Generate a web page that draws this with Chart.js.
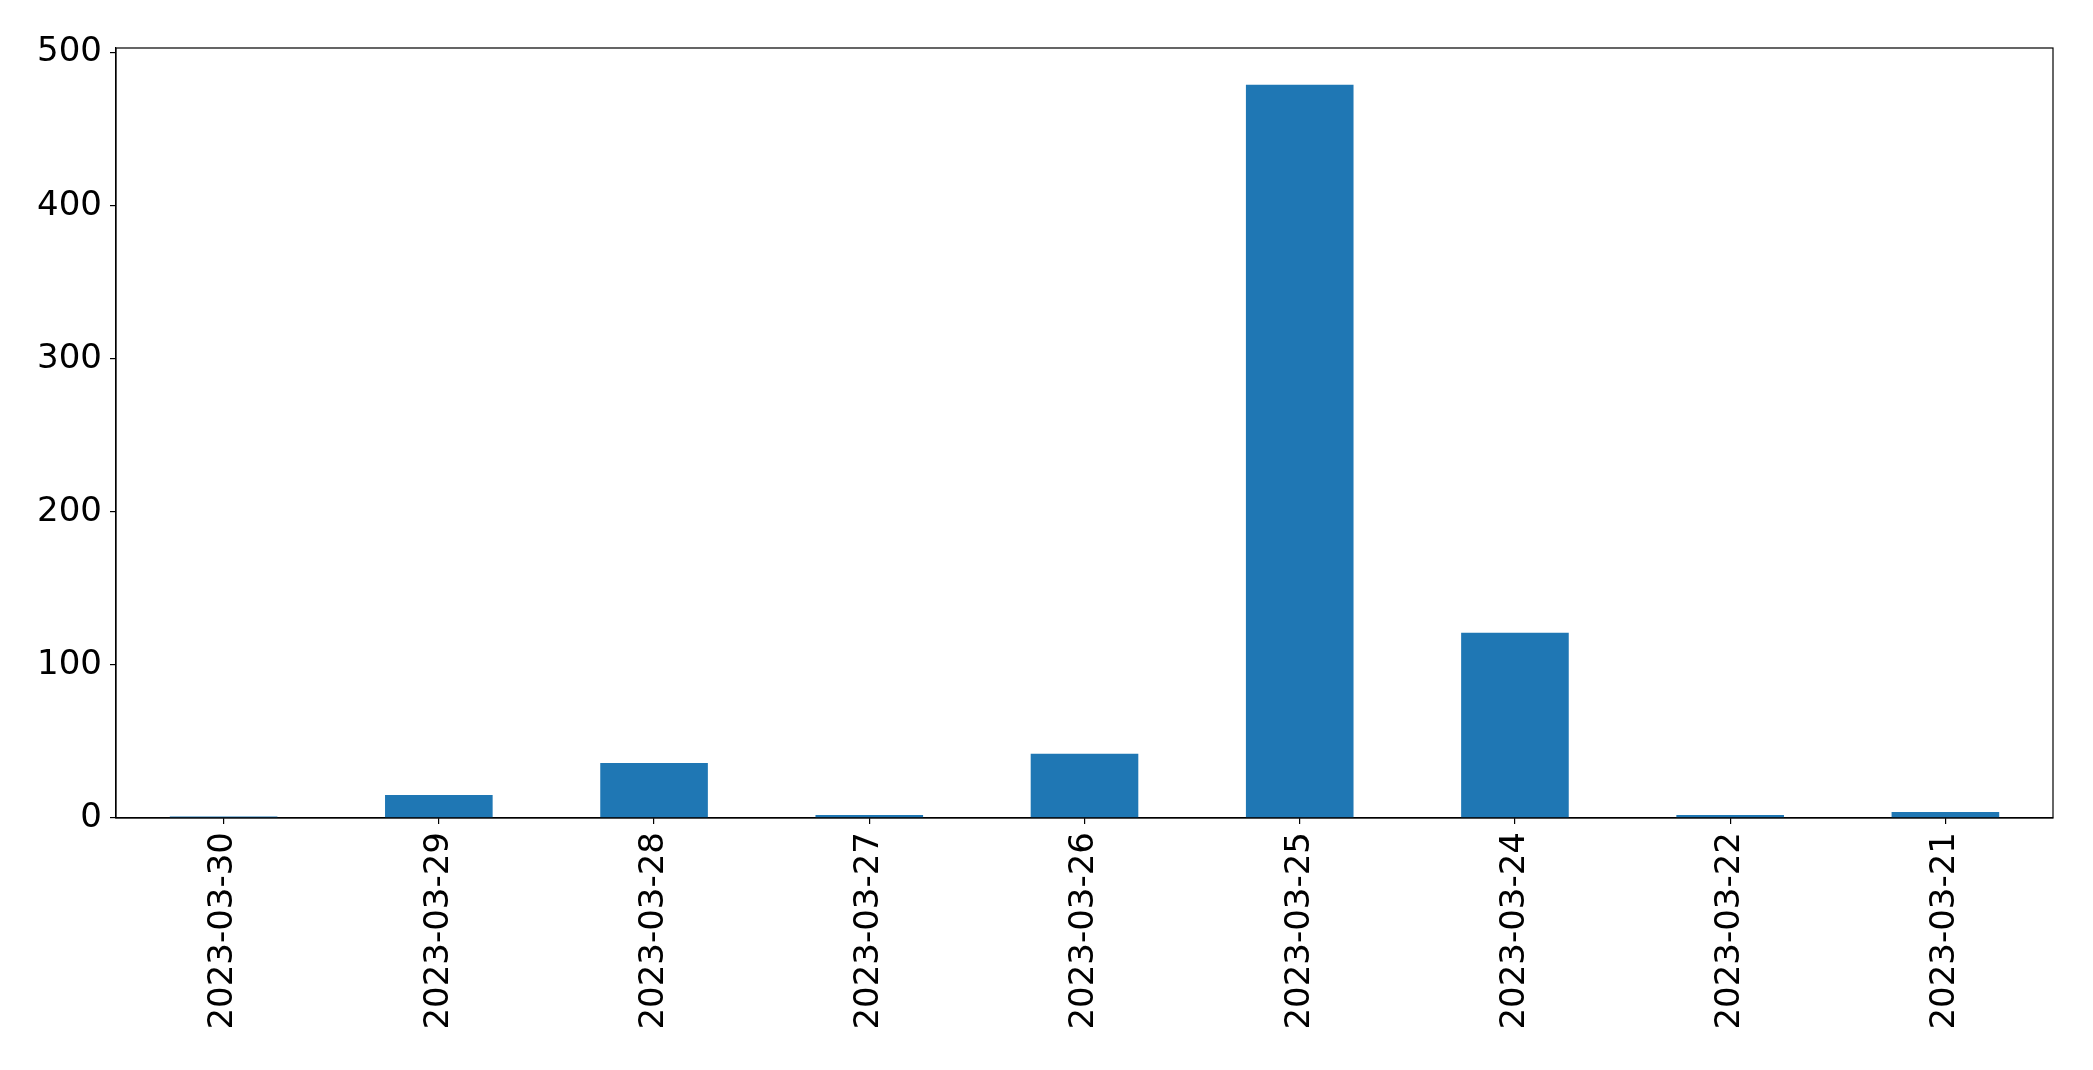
<!DOCTYPE html>
<html>
<head>
<meta charset="utf-8">
<script src="https://cdn.jsdelivr.net/npm/chart.js@4"></script>
<style>
  html, body { margin: 0; padding: 0; background: #fff; }
  #wrap { width: 2093px; height: 1070px; }
</style>
</head>
<body>
<div id="wrap"><canvas id="barChart" width="2093" height="1070"></canvas></div>
<script>
// Data
const dates = ['2023-03-30', '2023-03-29', '2023-03-28', '2023-03-27', '2023-03-26',
               '2023-03-25', '2023-03-24', '2023-03-22', '2023-03-21'];
const counts = [1, 15, 36, 2, 42, 479, 121, 2, 4];
const yTicks = [0, 100, 200, 300, 400, 500];

// Draw the top and right spines like the reference frame
const frame = {
    id: 'frame',
    afterDraw(chart) {
        const { ctx, chartArea: a } = chart;
        ctx.save();
        ctx.strokeStyle = '#000';
        ctx.lineWidth = 1.2;
        ctx.strokeRect(a.left, a.top, a.right - a.left, a.bottom - a.top);
        ctx.restore();
    }
};

const tickFont = { family: 'DejaVu Sans', size: 34 };

new Chart(document.getElementById('barChart').getContext('2d'), {
    type: 'bar',
    data: {
        labels: dates,
        datasets: [{
            data: counts,
            backgroundColor: '#1f77b4',
            borderWidth: 0,
            categoryPercentage: 1,
            barPercentage: 0.5
        }]
    },
    options: {
        responsive: false,
        animation: false,
        layout: { padding: { top: 48, right: 40, left: 0, bottom: 0 } },
        plugins: { legend: { display: false }, tooltip: { enabled: false } },
        scales: {
            x: {
                grid: { offset: false, drawOnChartArea: false, drawTicks: true, tickLength: 6, color: '#000', lineWidth: 1.2 },
                border: { display: true, color: '#000', width: 1.2 },
                ticks: { color: '#000', font: tickFont, minRotation: 90, maxRotation: 90, padding: 8 },
                afterFit(scale) { scale.height = 252; }
            },
            y: {
                min: 0,
                max: 503,
                grid: { drawOnChartArea: false, drawTicks: true, tickLength: 6, color: '#000', lineWidth: 1.2 },
                border: { display: true, color: '#000', width: 1.2 },
                ticks: { color: '#000', font: tickFont, stepSize: 100, includeBounds: false, padding: 8 },
                afterBuildTicks(scale) { scale.ticks = yTicks.map(v => ({ value: v })); },
                afterFit(scale) { scale.width = 116; }
            }
        }
    },
    plugins: [frame]
});
</script>
</body>
</html>
